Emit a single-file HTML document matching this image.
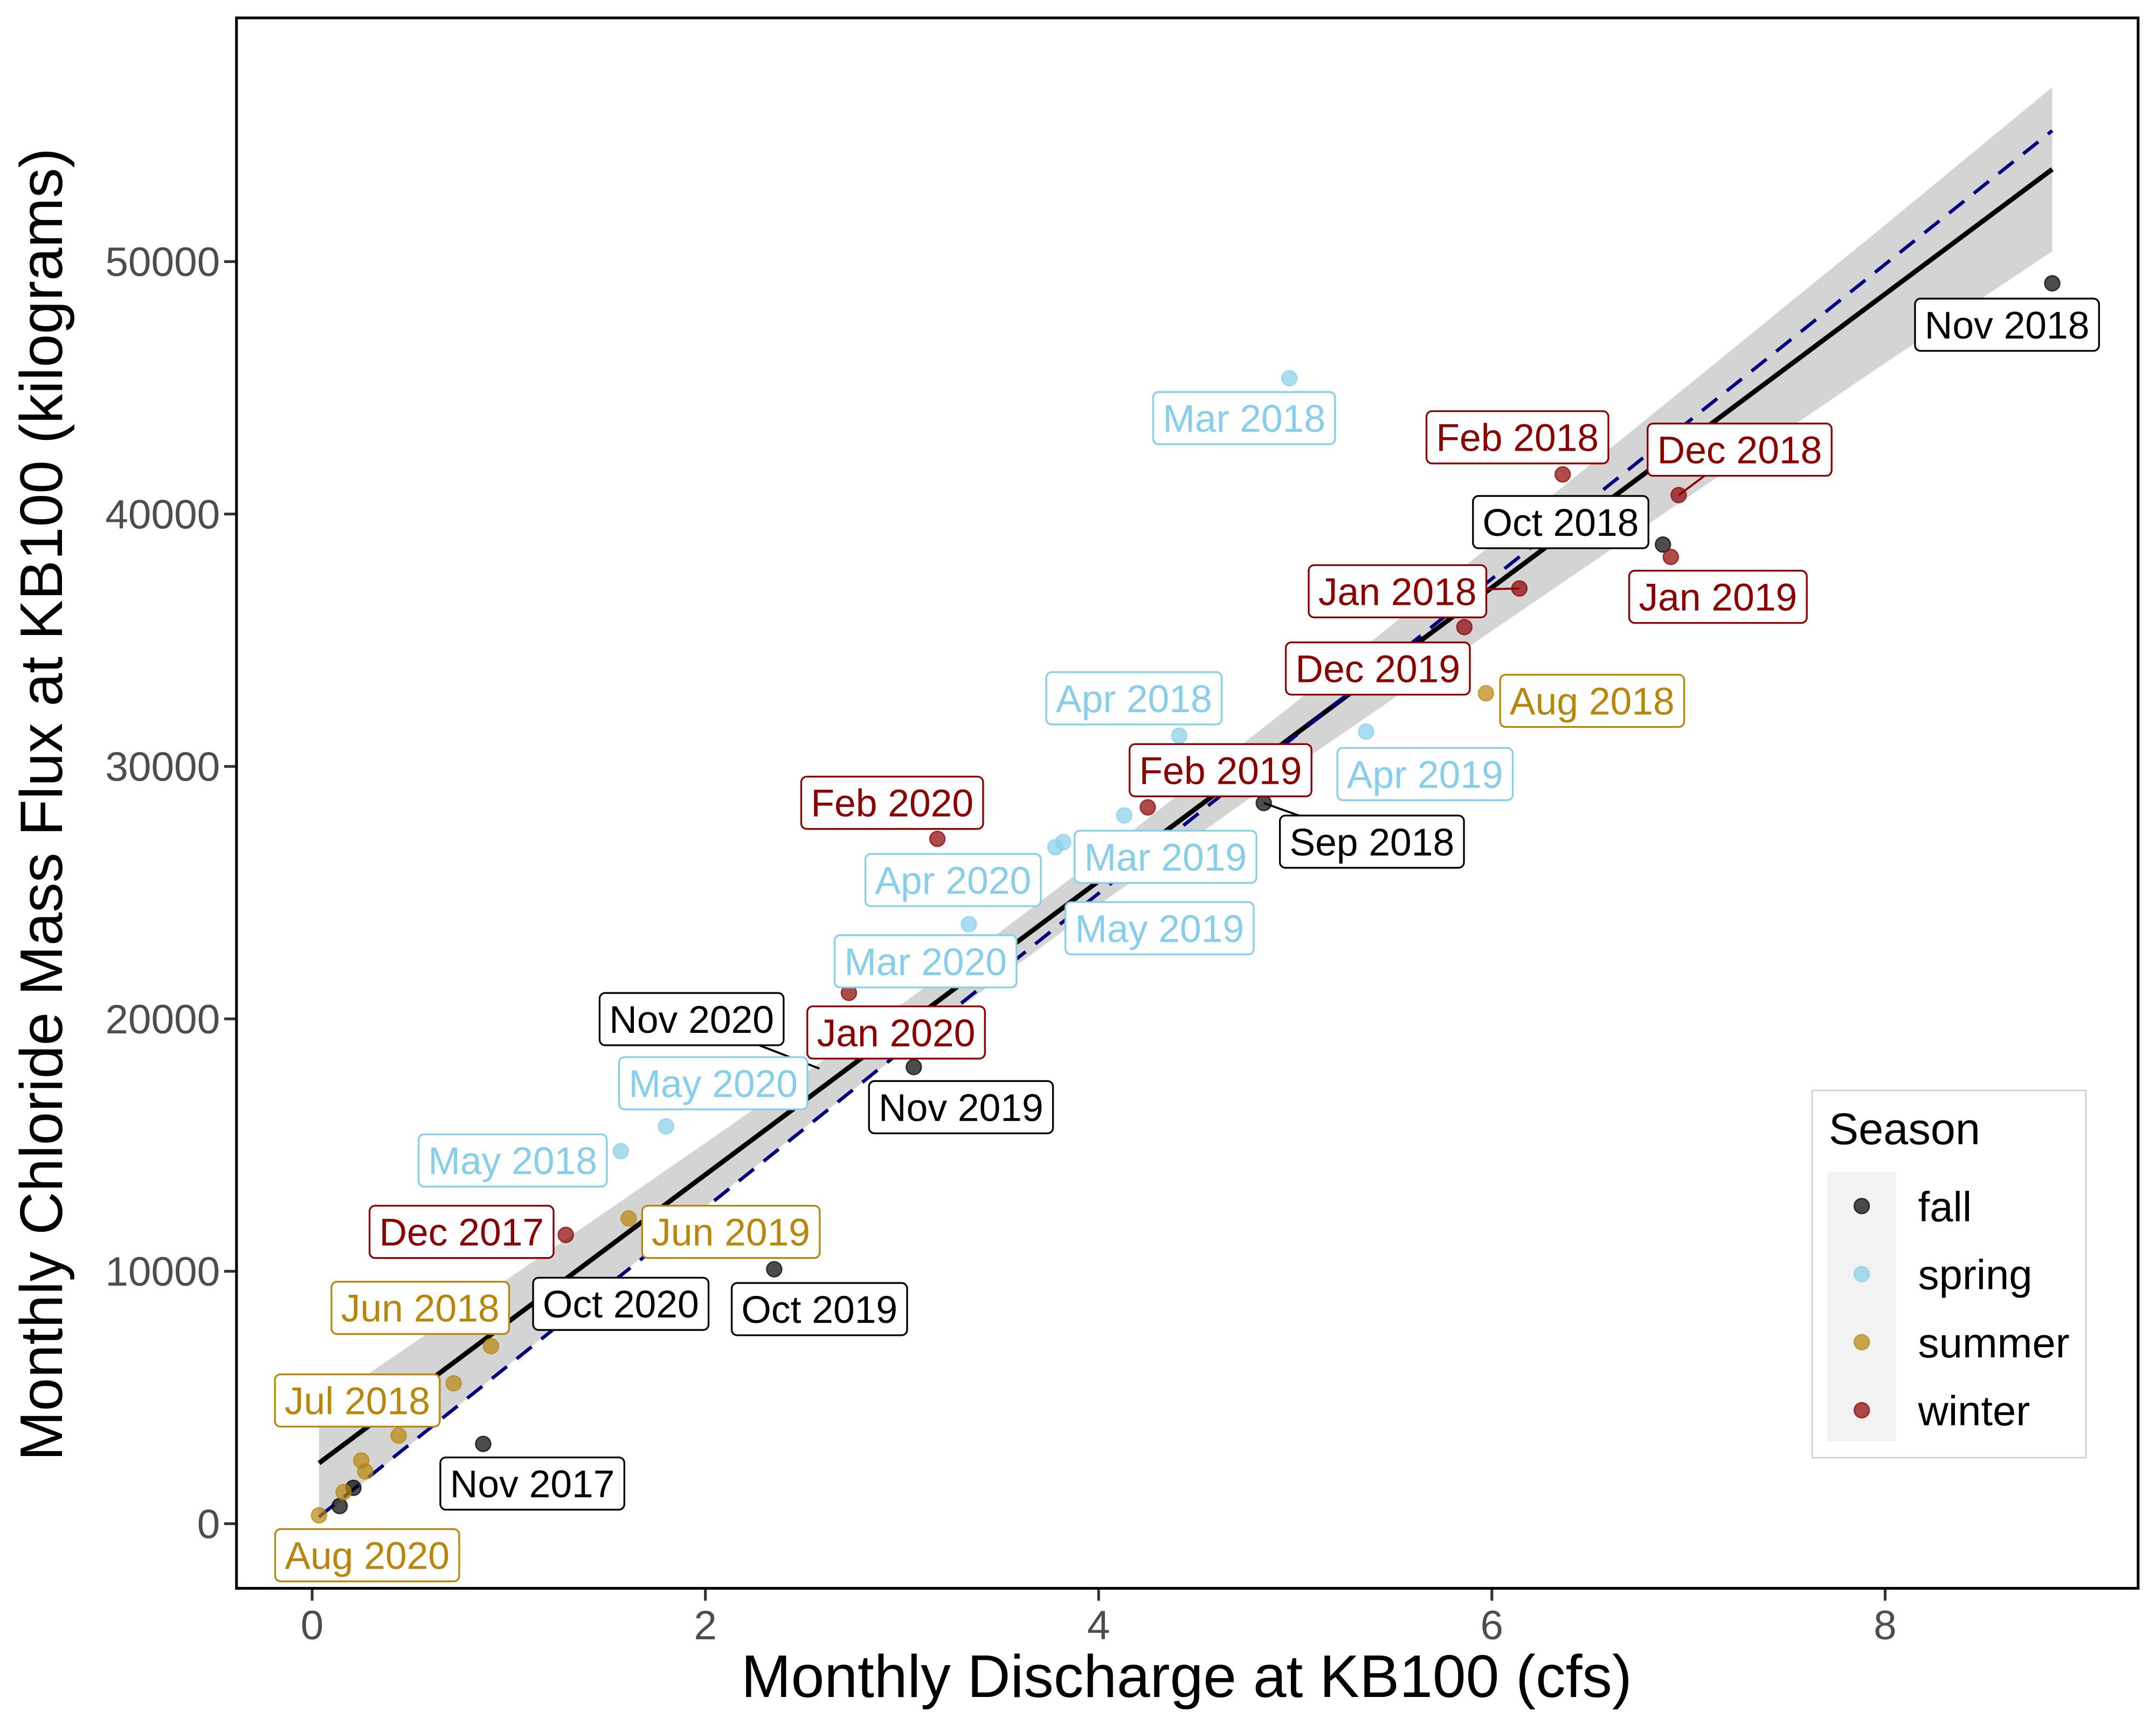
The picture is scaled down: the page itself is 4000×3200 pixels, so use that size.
<!DOCTYPE html>
<html><head><meta charset="utf-8"><style>
html,body{margin:0;padding:0;background:#fff;}
svg{display:block;font-family:"Liberation Sans",sans-serif;}
</style></head><body>
<svg id="chart" width="4000" height="3200" viewBox="0 0 1568 1254.4" preserveAspectRatio="none" xmlns="http://www.w3.org/2000/svg">
<rect x="0" y="0" width="1568" height="1255" fill="#fff"/>
<g id="ribbon-g"></g>
<g id="lines-g"></g>
<g id="leaders-g"></g>
<g id="points-g"></g>
<g id="labels-g"></g>
<rect x="172" y="13" width="1383" height="1142" fill="none" stroke="#000" stroke-width="2"/>
<g id="axes-g"></g>
<text x="863" y="1234" font-size="43.5" text-anchor="middle">Monthly Discharge at KB100 (cfs)</text>
<text transform="translate(45,585) rotate(-90)" font-size="43.5" text-anchor="middle">Monthly Chloride Mass Flux at KB100 (kilograms)</text>
<g>
<rect x="1318" y="793" width="199" height="267" fill="#fff" stroke="#cccccc" stroke-width="1"/>
<text x="1330" y="832" font-size="32.5">Season</text>
<rect x="1329" y="852" width="50" height="196" fill="#f2f2f2"/>
<g id="legend-g"></g>
</g>
</svg>
<script>
const seasons = ["fall","spring","summer","winter"];
const pointFill = {fall:"rgba(0,0,0,0.7)",spring:"rgba(135,206,235,0.7)",summer:"rgba(184,134,11,0.7)",winter:"rgba(139,0,0,0.7)"};
const textColor = {fall:"#000000",spring:"#87CEEB",summer:"#B8860B",winter:"#8B0000"};
const months = ["Nov 2018","Oct 2018","Sep 2018","Nov 2019","Oct 2019","Nov 2017","Nov 2020","Oct 2020","",
 "Mar 2018","Apr 2018","Apr 2019","Mar 2019","May 2019","Mar 2020","Apr 2020","May 2020","May 2018",
 "Aug 2018","Jun 2019","Jun 2018","Jul 2018","","","","","Aug 2020",
 "Feb 2018","Dec 2018","Jan 2019","Jan 2018","Dec 2019","Feb 2019","Feb 2020","Jan 2020","Dec 2017"];
const seasonOf = ["fall","fall","fall","fall","fall","fall","fall","fall","fall",
 "spring","spring","spring","spring","spring","spring","spring","spring","spring",
 "summer","summer","summer","summer","summer","summer","summer","summer","summer",
 "winter","winter","winter","winter","winter","winter","winter","winter","winter"];
const discharge = [8.85,6.87,4.84,3.06,2.35,0.87,2.58,0.21,0.14,
 4.97,4.41,5.36,4.13,3.82,3.78,3.34,1.80,1.57,
 5.97,1.61,0.91,0.72,0.44,0.25,0.27,0.16,0.035,
 6.36,6.95,6.91,6.14,5.86,4.25,3.18,2.73,1.29];
const flux = [49140,38790,28550,18090,10080,3160,18030,1420,700,
 45380,31220,31380,28060,27000,26800,23750,15740,14760,
 32900,12090,7030,5560,3490,2500,2070,1250,330,
 41570,40750,38300,37050,35520,28380,27130,21030,11440];
const showPoint = [1,1,1,1,1,1,0,1,1, 1,1,1,1,1,1,1,1,1, 1,1,1,1,1,1,1,1,1, 1,1,1,1,1,1,1,1,1];
const labelX = [8.62,6.35,5.39,3.30,2.58,1.12,1.93,1.57,0,
 4.74,4.18,5.66,4.34,4.31,3.12,3.26,2.04,1.02,
 6.51,2.13,0.55,0.23,0,0,0,0,0.28,
 6.13,7.26,7.15,5.52,5.42,4.62,2.95,2.97,0.76];
const labelY = [47500,39680,27020,16500,8500,1590,19990,8710,0,
 43800,32700,29700,26420,23590,22280,25500,17450,14390,
 32600,11560,8550,4880,0,0,0,0,-1250,
 43040,42550,36720,36940,33880,29850,28560,19460,11560];
const hasLeader = [0,0,1,0,0,0,1,0,0, 0,0,0,0,0,0,0,0,0, 0,0,0,0,0,0,0,0,0, 0,1,0,1,0,0,0,0,0];
const xTicks = [0,2,4,6,8];
const yTicks = [0,10000,20000,30000,40000,50000];
const fitX = [0.035,8.85];
const fitY = [2400,53660];
const refY = [270,55190];
const ribbonX = [0.035,0.5,1,1.5,2,2.5,3,3.5,4,5,6,7,8,8.85];
const ribbonUpper = [4613,7073,9725,12393,15082,17807,20587,23449,26402,32527,38800,45114,51451,56910];
const ribbonLower = [187,3135,6297,9445,12570,15661,18695,21649,24510,30015,35372,40688,45981,50410];

const X = v => 227 + 143*v;
const Y = v => 1108 - 0.018355*v;
const NS = "http://www.w3.org/2000/svg";
function mk(tag, attrs, parent){const e=document.createElementNS(NS,tag);for(const k in attrs)e.setAttribute(k,attrs[k]);parent.appendChild(e);return e;}

let d = ribbonX.map((x,i)=>(i?"L":"M")+X(x)+","+Y(ribbonUpper[i])).join("");
for(let i=ribbonX.length-1;i>=0;i--) d += "L"+X(ribbonX[i])+","+Y(ribbonLower[i]);
const rib = mk("path",{d:d+"Z",fill:"#d4d4d4"},document.getElementById("ribbon-g"));



const lg = document.getElementById("lines-g");
const fl = mk("line",{x1:X(fitX[0]),y1:Y(fitY[0]),x2:X(fitX[1]),y2:Y(fitY[1]),stroke:"#000","stroke-width":3.5},lg);


const rl = mk("line",{x1:X(fitX[0]),y1:Y(refY[0]),x2:X(fitX[1]),y2:Y(refY[1]),stroke:"#000080","stroke-width":2.5,"stroke-dasharray":"14,9"},lg);



const ldg = document.getElementById("leaders-g");
months.forEach((m,i)=>{ if(!hasLeader[i]) return;
  const l = mk("line",{x1:X(labelX[i]),y1:Y(labelY[i]),x2:X(discharge[i]),y2:Y(flux[i]),stroke:textColor[seasonOf[i]],"stroke-width":1.5},ldg);
  
  
});

const pg = document.getElementById("points-g");
discharge.forEach((x,i)=>{
  if(!showPoint[i]) return;
  const s = seasonOf[i];
  const c = mk("circle",{cx:X(x),cy:Y(flux[i]),r:5.5,fill:pointFill[s],stroke:pointFill[s],"stroke-width":1},pg);
  
  
});

const lbg = document.getElementById("labels-g");
months.forEach((m,i)=>{ if(!m) return;
  const s = seasonOf[i];
  const g = mk("g",{},lbg);
  
  
  const cx = X(labelX[i]), cy = Y(labelY[i]);
  const r = mk("rect",{x:cx-60,y:cy-19,width:120,height:38,rx:4,fill:"#fff",stroke:textColor[s],"stroke-width":1.3},g);
  const t = mk("text",{x:cx,y:cy+10,"font-size":28,"text-anchor":"middle",fill:textColor[s]},g);
  t.textContent = m;
  const w = t.getComputedTextLength();
  r.setAttribute("x",cx-w/2-7); r.setAttribute("width",w+14);
});

const ag = document.getElementById("axes-g");
xTicks.forEach(v=>{
  const l = mk("line",{x1:X(v),y1:1156,x2:X(v),y2:1164,stroke:"#333","stroke-width":2},ag);
  
  
  const t = mk("text",{x:X(v),y:1192,"font-size":30,"text-anchor":"middle",fill:"#4d4d4d"},ag);
  
  
  t.textContent = v;
});
yTicks.forEach(v=>{
  const l = mk("line",{x1:163,y1:Y(v),x2:171,y2:Y(v),stroke:"#333","stroke-width":2},ag);
  
  
  const t = mk("text",{x:160,y:Y(v)+10.5,"font-size":30,"text-anchor":"end",fill:"#4d4d4d"},ag);
  
  
  t.textContent = v;
});

const leg = document.getElementById("legend-g");
seasons.forEach((s,i)=>{
  const y = 877 + i*49.5;
  const c = mk("circle",{cx:1354,cy:y,r:5.5,fill:pointFill[s],stroke:pointFill[s],"stroke-width":1},leg);
  
  
  const t = mk("text",{x:1395,y:y+11,"font-size":30.5,fill:"#000"},leg);
  
  
  t.textContent = s;
});
</script>
</body></html>
